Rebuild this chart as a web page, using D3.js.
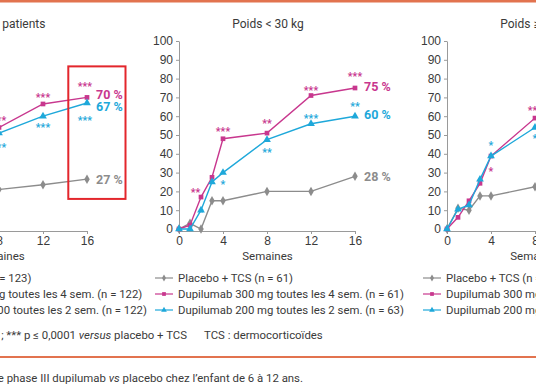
<!DOCTYPE html>
<html lang="fr">
<head>
<meta charset="UTF-8">
<title>Dupilumab enfant 6-12 ans</title>
<script src="https://cdn.jsdelivr.net/npm/d3@7"></script>
<style>
  * { box-sizing: border-box; }
  body { margin: 0; background: #fff; font-family: 'Roboto', 'Noto Sans', sans-serif; }
  svg text { fill: #3a3a3a; }
  .axis path, .axis line { stroke: #9a9a9a; }
  .axis text { font-size: 12px; fill: #3a3a3a; }
</style>
</head>
<body>
<svg id="chart" width="536" height="386"></svg>
<script>
// semaines
var weeks = [0, 1, 2, 3, 4, 8, 12, 16];
var xTicks = [0, 4, 8, 12, 16];
var yTicks = [0, 10, 20, 30, 40, 50, 60, 70, 80, 90, 100];
var panelTitles = ['Tous les patients', 'Poids < 30 kg', 'Poids \u2265 30 kg'];

// tous les patients
var placeboAll = [0, 7, 5, 16, 16, 21, 23.5, 26.5];
var dupi300All = [0, 4, 16, 26, 43, 54, 66.5, 70];
var dupi200All = [0, 5, 12, 26, 35, 51, 60, 67];
// poids < 30 kg
var placeboLt30 = [0, 3, 0, 15, 15, 20, 20, 28];
var dupi300Lt30 = [0, 2, 17, 27.5, 48, 51, 71, 75];
var dupi200Lt30 = [0, 0, 10, 25, 30, 47.5, 56, 60];
// poids >= 30 kg
var placeboGe30 = [0, 11, 10, 17.6, 17.6, 22.5, 24, 26];
var dupi300Ge30 = [0, 6.2, 15, 24.3, 38.8, 59, 62, 64];
var dupi200Ge30 = [0, 10.5, 12.8, 26.4, 38.8, 54, 70, 75];

// legendes
var legendAll = ['Placebo + TCS (n = 123)', 'Dupilumab 300 mg toutes les 4 sem. (n = 122)', 'Dupilumab 100/200 toutes les 2 sem. (n = 122)'];
var legendLt30 = ['Placebo + TCS (n = 61)', 'Dupilumab 300 mg toutes les 4 sem. (n = 61)', 'Dupilumab 200 mg toutes les 2 sem. (n = 63)'];
var legendGe30 = ['Placebo + TCS (n = 62)', 'Dupilumab 300 mg toutes les 4 sem. (n = 61)', 'Dupilumab 200 mg toutes les 2 sem. (n = 59)'];

// etoiles de significativite : [semaine, niveau, texte]
var starsDupi300All = [[8, 59, '***'], [12, 71, '***'], [15.8, 77, '***']];
var starsDupi200All = [[8, 44.5, '***'], [12, 55, '***'], [15.8, 59, '***']];
var starsDupi300Lt30 = [[1.5, 20.7, '**'], [4, 53, '***'], [8, 57, '**'], [12, 75, '***'], [16, 82, '***']];
var starsDupi200Lt30 = [[2, 9.7, '*'], [4, 24.6, '*'], [8, 42, '**'], [12, 59.7, '***'], [16, 66, '**']];
var starsDupi300Ge30 = [[4, 31.7, '*'], [8, 64, '***']];
var starsDupi200Ge30 = [[4, 45.6, '*'], [8, 49, '*']];

// valeurs finales : [niveau, texte]
var endAll = [[71.5, '70 %'], [65, '67 %'], [26.5, '27 %']];
var endLt30 = [[76, '75 %'], [61, '60 %'], [27.8, '28 %']];
var endGe30 = [[64, '64 %'], [75, '75 %'], [26, '26 %']];

var colors = ['#8c8c8c', '#c8378e', '#1ea8da'];
var shapes = [d3.symbolDiamond, d3.symbolSquare, d3.symbolTriangle];
var shapeSizes = [26, 22, 26];

var panels = [
  { title: panelTitles[0], series: [placeboAll, dupi300All, dupi200All], legend: legendAll,
    stars: [starsDupi300All, starsDupi200All], ends: endAll, box: true },
  { title: panelTitles[1], series: [placeboLt30, dupi300Lt30, dupi200Lt30], legend: legendLt30,
    stars: [starsDupi300Lt30, starsDupi200Lt30], ends: endLt30 },
  { title: panelTitles[2], series: [placeboGe30, dupi300Ge30, dupi200Ge30], legend: legendGe30,
    stars: [starsDupi300Ge30, starsDupi200Ge30], ends: endGe30 }
];
// ordre des couleurs pour les valeurs finales
var endColors = [colors[1], colors[2], colors[0]];

var svg = d3.select('#chart');
var panelStep = 268;

var x = d3.scaleLinear().domain([0, 16]).range([179, 355]);
var y = d3.scaleLinear().domain([0, 100]).range([229, 41]);

// filets oranges
svg.append('rect').attr('x', 0).attr('y', 0).attr('width', 536).attr('height', 2.5).style('fill', '#e2734f');
svg.append('rect').attr('x', 0).attr('y', 356).attr('width', 536).attr('height', 2).style('fill', '#e2734f');

var line = d3.line().x(function(d) { return x(d[0]); }).y(function(d) { return y(d[1]); });

panels.forEach(function(p, i) {
  var g = svg.append('g').attr('transform', 'translate(' + ((i - 1) * panelStep) + ',0)');

  g.append('text').attr('x', 268).attr('y', 28).attr('text-anchor', 'middle')
    .style('font-size', '12px').text(p.title);

  g.append('g').attr('class', 'axis').attr('transform', 'translate(179,0)')
    .call(d3.axisLeft(y).tickValues(yTicks).tickSize(3).tickSizeOuter(0).tickPadding(3));

  g.append('g').attr('class', 'axis').attr('transform', 'translate(0,231)')
    .call(d3.axisBottom(x).tickValues(xTicks).tickSize(3).tickSizeOuter(0).tickPadding(2));

  g.append('text').attr('x', 267.5).attr('y', 259.5).attr('text-anchor', 'middle')
    .style('font-size', '11.5px').text('Semaines');

  p.series.forEach(function(vals, s) {
    var pts = weeks.map(function(w, k) { return [w, vals[k]]; });
    g.append('path').datum(pts).attr('d', line)
      .style('fill', 'none').style('stroke', colors[s]).style('stroke-width', 1.4);
    g.selectAll(null).data(pts).enter().append('path')
      .attr('d', d3.symbol().type(shapes[s]).size(shapeSizes[s]))
      .attr('transform', function(d) { return 'translate(' + x(d[0]) + ',' + y(d[1]) + ')'; })
      .style('fill', colors[s]);
  });

  p.stars.forEach(function(list, s) {
    g.selectAll(null).data(list).enter().append('text')
      .attr('x', function(d) { return x(d[0]); })
      .attr('y', function(d) { return y(d[1]) + 5.5; })
      .attr('text-anchor', 'middle')
      .style('font-size', '10.5px').style('font-weight', 'bold')
      .style('fill', colors[s + 1])
      .text(function(d) { return d[2]; });
  });

  g.selectAll(null).data(p.ends).enter().append('text')
    .attr('x', x(16) + 9)
    .attr('y', function(d) { return y(d[0]) + 4.5; })
    .style('font-size', '12.5px').style('font-weight', 'bold')
    .style('fill', function(d, k) { return endColors[k]; })
    .text(function(d) { return d[1]; });

  if (p.box) {
    g.append('rect')
      .attr('x', x(14.3)).attr('y', y(86.5))
      .attr('width', x(19.5) - x(14.3)).attr('height', y(16) - y(86.5))
      .style('fill', 'none').style('stroke', '#e3262c').style('stroke-width', 2);
  }

  var lg = g.append('g').attr('transform', 'translate(0,278)');
  p.legend.forEach(function(txt, s) {
    var row = lg.append('g').attr('transform', 'translate(0,' + (s * 16) + ')');
    row.append('line').attr('x1', x(0) - 24).attr('x2', x(0) - 6)
      .style('stroke', colors[s]).style('stroke-width', 1.2);
    row.append('path').attr('d', d3.symbol().type(shapes[s]).size(14))
      .attr('transform', 'translate(' + (x(0) - 15) + ',0)').style('fill', colors[s]);
    row.append('text').attr('x', x(0) - 1).attr('y', 4.2)
      .style('font-size', '11.35px').text(txt);
  });
});

// note de bas de figure
var note = svg.append('text').attr('x', 187).attr('y', 338.5).attr('text-anchor', 'end').style('font-size', '11.4px');
note.append('tspan').text('* p < 0,05 ; ** p < 0,001 ; *** p \u2264 0,0001 ');
note.append('tspan').style('font-style', 'italic').text('versus');
note.append('tspan').text(' placebo + TCS');
svg.append('text').attr('x', 204).attr('y', 338.5).style('font-size', '11.4px').text('TCS : dermocortico\u00efdes');

var cap = svg.append('text').attr('x', 303).attr('y', 382).attr('text-anchor', 'end').style('font-size', '11.4px');
cap.append('tspan').text('Figure 2. R\u00e9sultats de l\u2019\u00e9tude de phase III dupilumab ');
cap.append('tspan').style('font-style', 'italic').text('vs');
cap.append('tspan').text(' placebo chez l\u2019enfant de 6 \u00e0 12 ans.');
</script>
</body>
</html>
